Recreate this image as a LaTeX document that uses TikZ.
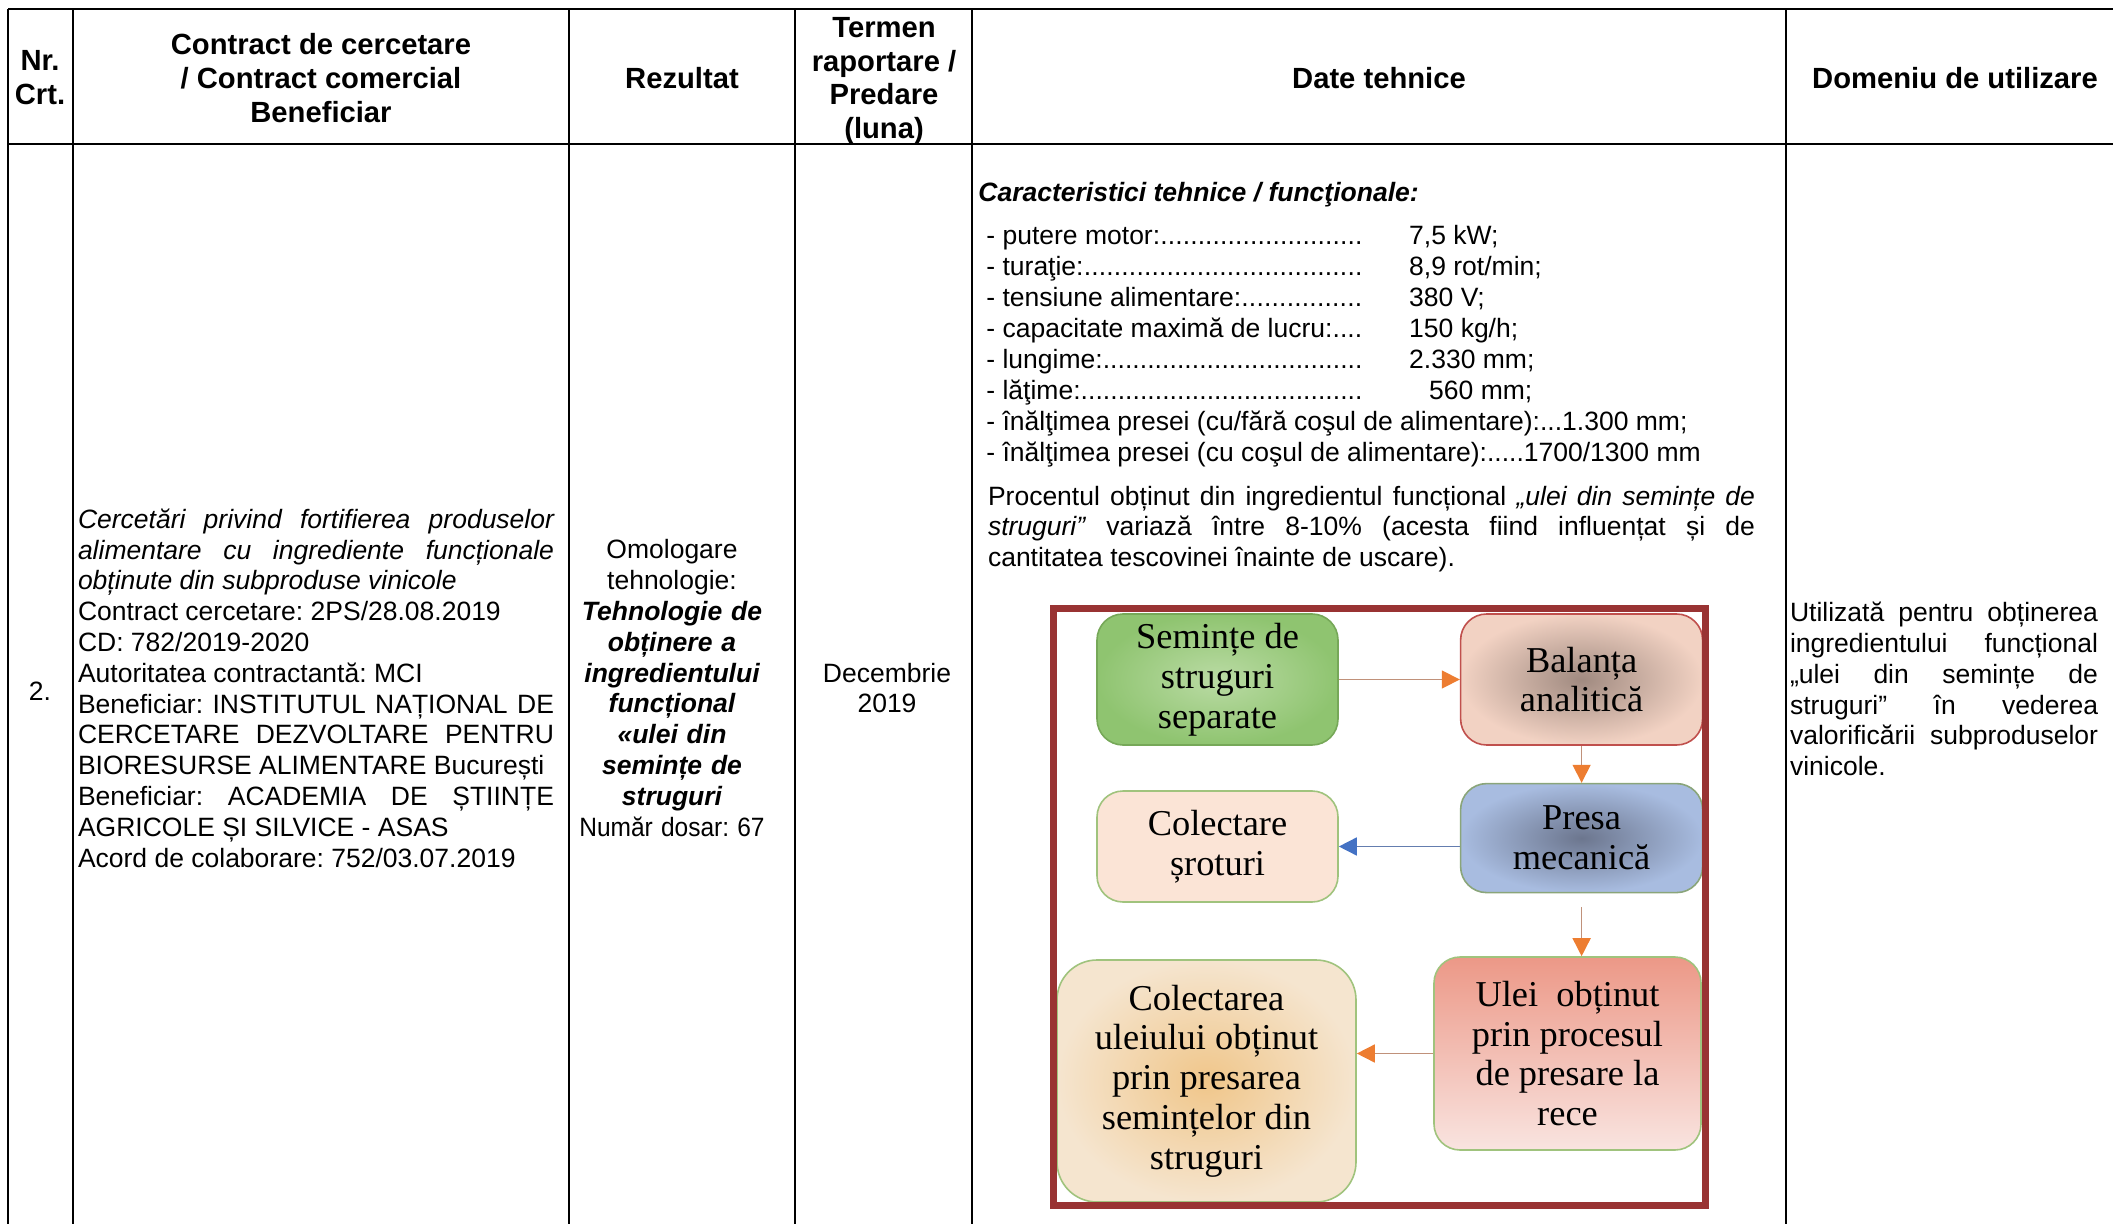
\documentclass[tikz,border=0pt]{standalone}
\usepackage{fontspec}
\usepackage{graphicx}
\setmainfont{Liberation Sans}
\newfontfamily\serifbox{Liberation Serif}
\usetikzlibrary{arrows.meta, positioning, calc}

\definecolor{framered}{RGB}{153,51,51}
\definecolor{arroworange}{RGB}{237,125,49}
\definecolor{arrowtan}{RGB}{192,145,122}
\definecolor{arrowblue}{RGB}{68,114,196}
\definecolor{lineblue}{RGB}{100,125,175}
\definecolor{seedlight}{RGB}{186,219,164}
\definecolor{seeddark}{RGB}{143,196,112}
\definecolor{seedborder}{RGB}{118,168,88}
\definecolor{balpeach}{RGB}{242,210,195}
\definecolor{balcore}{RGB}{160,138,128}
\definecolor{balborder}{RGB}{192,80,77}
\definecolor{pressblue}{RGB}{168,188,224}
\definecolor{presscore}{RGB}{108,118,142}
\definecolor{pressborder}{RGB}{138,165,122}
\definecolor{srotfill}{RGB}{251,228,214}
\definecolor{softgreen}{RGB}{160,195,125}
\definecolor{oiltop}{RGB}{236,152,135}
\definecolor{oilbottom}{RGB}{249,228,224}
\definecolor{collectcore}{RGB}{240,198,138}
\definecolor{collectedge}{RGB}{245,229,207}

\newcommand{\hdrfont}{\fontsize{14.6pt}{16.9pt}\selectfont\bfseries}
\newcommand{\cellfont}{\fontsize{13.25pt}{15.4pt}\selectfont\frenchspacing}
\newcommand{\flowfont}{\serifbox\fontsize{18.2pt}{19.9pt}\selectfont}
\newcommand{\dotlabel}[1]{\makebox[188pt][l]{#1\xleaders\hbox{.}\hfill}}

\begin{document}
\begin{tikzpicture}[x=0.5pt, y=-0.5pt,
    hdr/.style={font=\hdrfont, align=center, inner sep=0pt},
    cell/.style={font=\cellfont, inner sep=0pt},
    rule/.style={line width=1pt},
    flowbox/.style={rounded corners=13pt, line width=0.8pt, align=center, inner sep=0pt, font=\flowfont},
    flowarrow/.style={draw=arrowtan, line width=0.8pt, -{Triangle[length=9pt, width=9pt, color=arroworange]}},
    bluearrow/.style={draw=lineblue, line width=0.8pt, -{Triangle[length=9pt, width=9pt, color=arrowblue]}}]
    \useasboundingbox (0,0) rectangle (2113,1224);

    % Table rules
    \draw[line width=1.3pt] (8,9) -- (2113,9);
    \draw[line width=1.3pt] (8,144) -- (2113,144);
    \draw[rule] (8,9) -- (8,1224);
    \draw[rule] (73,9) -- (73,1224);
    \draw[rule] (569,9) -- (569,1224);
    \draw[rule] (795,9) -- (795,1224);
    \draw[rule] (972,9) -- (972,1224);
    \draw[rule] (1786,9) -- (1786,1224);

    % Header row
    \node[hdr] (hnr) at (40,78) {Nr.\\Crt.};
    \node[hdr] (hcontract) at (321,78) {Contract de cercetare\\/ Contract comercial\\Beneficiar};
    \node[hdr] (hrez) at (682,78) {Rezultat};
    \node[hdr] (htermen) at (884,81) {Termen\\raportare /\\Predare\\(luna)};
    \node[hdr] (hdate) at (1379,78) {Date tehnice};
    \node[hdr] (hdom) at (1955,78) {Domeniu de utilizare};

    % Row 2
    \node[cell] (nr) at (40,691) {2.};
    \node[cell, text width=238pt, align=justify] (contract) at (316,688) {\textit{Cercetări privind fortifierea produselor\linebreak alimentare cu ingrediente funcționale\linebreak obținute din subproduse vinicole}\\Contract cercetare: 2PS/28.08.2019\\CD: 782/2019-2020\\Autoritatea contractantă: MCI\\Beneficiar: INSTITUTUL NAȚIONAL DE\linebreak CERCETARE DEZVOLTARE PENTRU\linebreak BIORESURSE ALIMENTARE București\\Beneficiar: ACADEMIA DE ȘTIINȚE\linebreak AGRICOLE ȘI SILVICE - ASAS\\Acord de colaborare: 752/03.07.2019};
    \node[cell, text width=112pt, align=center] (rez) at (672,688) {Omologare\\tehnologie:\\{\bfseries\itshape Tehnologie de\\obținere a\\ingredientului\\funcțional\\«ulei din\\semințe de\\struguri}\\\scalebox{0.925}[1]{Număr dosar: 67}};
    \node[cell, align=center] (termen) at (887,688) {Decembrie\\2019};

    % Date tehnice
    \node[cell, font=\cellfont\bfseries\itshape, anchor=base west] (caract) at (978,202) {Caracteristici tehnice / funcţionale:};
    \node[cell, anchor=base west] (p1) at (986,245) {\dotlabel{- putere motor:}};
    \node[cell, anchor=base west] (p2) at (986,276) {\dotlabel{- turaţie:}};
    \node[cell, anchor=base west] (p3) at (986,307) {\dotlabel{- tensiune alimentare:}};
    \node[cell, anchor=base west] (p4) at (986,338) {\dotlabel{- capacitate maximă de lucru:}};
    \node[cell, anchor=base west] (p5) at (986,369) {\dotlabel{- lungime:}};
    \node[cell, anchor=base west] (p6) at (986,400) {\dotlabel{- lăţime:}};
    \node[cell, anchor=base west] (p7) at (986,431) {- înălţimea presei (cu/fără coşul de alimentare):...1.300 mm;};
    \node[cell, anchor=base west] (p8) at (986,462) {- înălţimea presei (cu coşul de alimentare):.....1700/1300 mm};
    \node[cell, base right=23pt of p1] (v1) {7,5 kW;};
    \node[cell, base right=23pt of p2] (v2) {8,9 rot/min;};
    \node[cell, base right=23pt of p3] (v3) {380 V;};
    \node[cell, base right=23pt of p4] (v4) {150 kg/h;};
    \node[cell, base right=23pt of p5] (v5) {2.330 mm;};
    \node[cell, base right=33pt of p6] (v6) {560 mm;};
    \node[cell, text width=383.5pt, align=justify] (procent) at (1371.5,529) {Procentul obținut din ingredientul funcțional \textit{„ulei din semințe de}\linebreak \textit{struguri”} variază între 8-10\% (acesta fiind influențat și de\linebreak cantitatea tescovinei înainte de uscare).};

    % Flow chart
    \node[flowbox, draw=seedborder, inner color=seedlight, outer color=seeddark, minimum width=120.5pt, minimum height=65.5pt] (seminte) at (1217.5,679.5) {Semințe de\\struguri\\separate};
    \node[flowbox, draw=balborder, inner color=balcore, outer color=balpeach, minimum width=121pt, minimum height=65.5pt, right=60.5pt of seminte] (balanta) {Balanța\\analitică};
    \node[flowbox, draw=pressborder, inner color=presscore, outer color=pressblue, minimum width=121pt, minimum height=54.5pt, below=18.5pt of balanta] (presa) {Presa\\mecanică};
    \node[flowbox, draw=softgreen, fill=srotfill, minimum width=120.5pt, minimum height=55.5pt] (srot) at (1217.5,846.5) {Colectare\\șroturi};
    \node[flowbox, draw=softgreen, top color=oiltop, bottom color=oilbottom, minimum width=133.5pt, minimum height=96.5pt] (ulei) at (1567.5,1053.5) {Ulei~ obținut\\prin procesul\\de presare la\\rece};
    \node[flowbox, rounded corners=20pt, draw=softgreen, inner color=collectcore, outer color=collectedge, minimum width=149.5pt, minimum height=121pt] (colect) at (1206.5,1081) {Colectarea\\uleiului obținut\\prin presarea\\semințelor din\\struguri};

    % Arrows
    \draw[flowarrow] (seminte) -- (balanta);
    \draw[flowarrow] (balanta) -- (presa);
    \draw[bluearrow] (presa.west |- srot) -- (srot.east);
    \draw[flowarrow] ([yshift=-7pt]presa.south) -- (presa.south |- ulei.north);
    \draw[flowarrow] (ulei.west) -- (ulei.west -| colect.east);

    % Frame
    \draw[framered, line width=3.5pt] (1053.5,608.5) rectangle (1705,1205.5);

    % Domeniu de utilizare
    \node[cell, text width=154pt, align=justify] (dom) at (1944,689) {Utilizată pentru obținerea\linebreak ingredientului funcțional\linebreak „ulei din semințe de\linebreak struguri” în vederea\linebreak valorificării subproduselor\linebreak vinicole.};
\end{tikzpicture}
\end{document}
